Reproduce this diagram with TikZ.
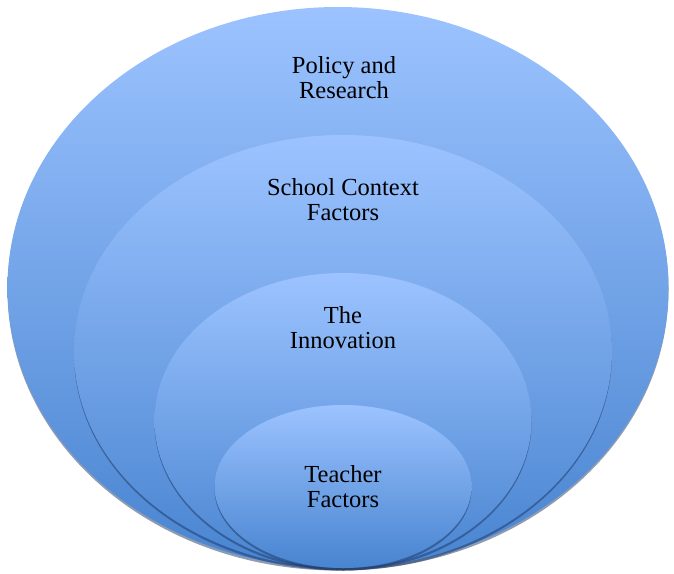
\documentclass[tikz,border=0pt]{standalone}
\usepackage{fontspec}
\setmainfont{Liberation Serif}
\usetikzlibrary{shapes.geometric,shadows,positioning}
\definecolor{lysblaa}{RGB}{156,195,255}
\definecolor{moerkblaa}{RGB}{72,132,208}
\definecolor{skygge}{RGB}{30,55,100}
\begin{document}
\begin{tikzpicture}[x=1pt,y=-1pt]

% Styles for elements
\tikzstyle{ring}	=	[ellipse, inner sep=0pt, outer sep=0pt, anchor=south, top color=lysblaa, bottom color=moerkblaa, drop shadow={fill=skygge, shadow xshift=0pt, shadow yshift=-2.5pt, opacity=0.5}]
\tikzstyle{tekst}	=	[align=center, inner sep=0pt, anchor=north, font=\fontsize{24.5}{25}\selectfont]

	\useasboundingbox (0,0) rectangle (674,573);
	\coordinate (bunn) at (343,568); % Common bottom point

	% Ellipses, outer to inner
	\node[ring, minimum width=661pt, minimum height=561pt, xshift=-5pt] (policy) at (bunn) {};
	\node[ring, minimum width=538pt, minimum height=433pt] (skole) at (bunn) {};
	\node[ring, minimum width=377pt, minimum height=295pt] (innovasjon) at (bunn) {};
	\node[ring, minimum width=257pt, minimum height=163pt] (laerer) at (bunn) {};

	% Labels
	\node[tekst, below=49pt of policy.north, xshift=6pt] (policy_tekst) {Policy and\\Research};
	\node[tekst, below=43pt of skole.north] (skole_tekst) {School Context\\Factors};
	\node[tekst, below=33pt of innovasjon.north] (innovasjon_tekst) {The\\Innovation};
	\node[tekst, below=60pt of laerer.north] (laerer_tekst) {Teacher\\Factors};

\end{tikzpicture}
\end{document}
